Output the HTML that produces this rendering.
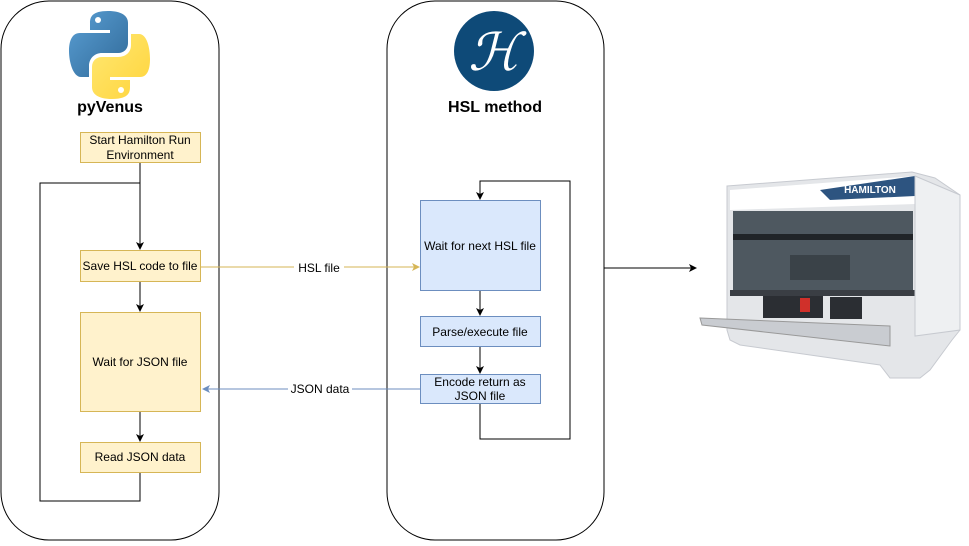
<!DOCTYPE html>
<html><head><meta charset="utf-8"><style>
body{margin:0;background:#fff;width:969px;height:541px;overflow:hidden;font-family:"Liberation Sans",sans-serif}
svg text{font-family:"Liberation Sans",sans-serif}
</style></head><body>
<svg width="969" height="541" viewBox="0 0 969 541" xmlns="http://www.w3.org/2000/svg">
<defs>
<marker id="a" markerWidth="8" markerHeight="8" refX="7" refY="4" orient="auto" markerUnits="userSpaceOnUse"><path d="M0,0 L8,4 L0,8 L2,4z" fill="#000"/></marker>
<marker id="y" markerWidth="8" markerHeight="8" refX="7" refY="4" orient="auto" markerUnits="userSpaceOnUse"><path d="M0,0 L8,4 L0,8 L2,4z" fill="#d6b656"/></marker>
<marker id="b" markerWidth="8" markerHeight="8" refX="7" refY="4" orient="auto" markerUnits="userSpaceOnUse"><path d="M0,0 L8,4 L0,8 L2,4z" fill="#6c8ebf"/></marker>
<linearGradient id="pb" x1="0" y1="0" x2="1" y2="1"><stop offset="0" stop-color="#5a9fd4"/><stop offset="1" stop-color="#306998"/></linearGradient>
<linearGradient id="py" x1="0" y1="0" x2="1" y2="1"><stop offset="0" stop-color="#ffe873"/><stop offset="1" stop-color="#ffd43b"/></linearGradient>
</defs>
<rect x="1" y="1" width="218" height="539" rx="48" fill="#fff" stroke="#000" stroke-width="1"/>
<rect x="387" y="1" width="217" height="539" rx="48" fill="#fff" stroke="#000" stroke-width="1"/>
<!-- python logo -->
<path d="M108,11 C92,11 90,17 90,23 L90,30 L110,30 L110,33 L80,33 C72,33 69,41 69,51 C69,62 73,77 81,77 L89,77 L89,66 C89,58 95,53 102,53 L118,53 C124,53 128,49 128,43 L128,23 C128,16 122,11 108,11z" fill="url(#pb)"/>
<circle cx="98" cy="20" r="3" fill="#fff"/>
<path d="M112,99 C128,99 130,93 130,87 L130,80 L110,80 L110,77 L140,77 C148,77 150,68 150,59 C150,48 147,34 139,34 L131,34 L131,45 C131,53 125,57 118,57 L102,57 C96,57 92,61 92,67 L92,87 C92,94 98,99 112,99z" fill="url(#py)"/>
<circle cx="121" cy="90" r="3" fill="#fff"/>
<text x="110" y="112" font-size="16" font-weight="bold" text-anchor="middle">pyVenus</text>
<!-- HSL logo -->
<circle cx="494" cy="51" r="40" fill="#0e4a78"/>
<text x="494" y="70" font-size="52" font-style="italic" fill="#fff" text-anchor="middle" font-family="Liberation Serif,serif">ℋ</text>
<text x="495" y="112" font-size="16" font-weight="bold" text-anchor="middle">HSL method</text>
<!-- left flow -->
<g stroke="#000" fill="none" stroke-width="1">
<path d="M140,162 V249" marker-end="url(#a)"/>
<path d="M140,472 V501 H40 V183 H140"/>
<path d="M140,281 V311" marker-end="url(#a)"/>
<path d="M140,411 V441" marker-end="url(#a)"/>
<path d="M480,290 V315" marker-end="url(#a)"/>
<path d="M480,346 V373" marker-end="url(#a)"/>
<path d="M480,403 V439 H570 V181 H480 V199" marker-end="url(#a)"/>
<path d="M604,268 H696" marker-end="url(#a)"/>
</g>
<g fill="#fff2cc" stroke="#d6b656">
<rect x="80.5" y="132.5" width="120" height="30"/>
<rect x="80.5" y="250.5" width="120" height="31"/>
<rect x="80.5" y="312.5" width="120" height="99"/>
<rect x="80.5" y="442.5" width="120" height="30"/>
</g>
<g fill="#dae8fc" stroke="#6c8ebf">
<rect x="420.5" y="200.5" width="120" height="90"/>
<rect x="420.5" y="316.5" width="120" height="30"/>
<rect x="420.5" y="374.5" width="120" height="29"/>
</g>
<g font-size="12" text-anchor="middle" fill="#000">
<text x="140" y="144">Start Hamilton Run</text>
<text x="140" y="159">Environment</text>
<text x="140" y="270">Save HSL code to file</text>
<text x="140" y="366">Wait for JSON file</text>
<text x="140" y="461">Read JSON data</text>
<text x="480" y="250">Wait for next HSL file</text>
<text x="480" y="336">Parse/execute file</text>
<text x="480" y="386">Encode return as</text>
<text x="480" y="400">JSON file</text>
</g>
<path d="M200,267 H419" stroke="#d6b656" fill="none" marker-end="url(#y)"/>
<rect x="294" y="259" width="50" height="16" fill="#fff"/>
<text x="319" y="272" font-size="12" text-anchor="middle">HSL file</text>
<path d="M420,389 H203" stroke="#6c8ebf" fill="none" marker-end="url(#b)"/>
<rect x="288" y="381" width="64" height="16" fill="#fff"/>
<text x="320" y="393" font-size="12" text-anchor="middle">JSON data</text>
<!-- robot -->
<g>
<path d="M727,186 L912,172 L935,178 L960,195 L960,330 L952,340 L930,370 L920,378 L890,378 L880,365 L740,345 L730,340 L727,330z" fill="#e4e6e9" stroke="#c7cad0"/>
<path d="M730,190 L915,176 L915,204 L730,210z" fill="#ffffff"/>
<path d="M820,190 L915,176 L915,196 L830,200z" fill="#2d5480"/>
<text x="870" y="193" font-size="10" font-weight="bold" fill="#fff" text-anchor="middle">HAMILTON</text>
<rect x="733" y="211" width="180" height="80" fill="#4e5860"/>
<rect x="733" y="234" width="180" height="6" fill="#202428"/>
<rect x="790" y="255" width="60" height="25" fill="#3a4248"/>
<rect x="730" y="290" width="186" height="6" fill="#3a3e44"/>
<rect x="763" y="296" width="60" height="22" fill="#2b2e33"/>
<rect x="800" y="298" width="10" height="14" fill="#d0302a"/>
<rect x="830" y="297" width="32" height="22" fill="#2b2e33"/>
<path d="M700,318 L890,326 L890,346 L702,325z" fill="#c9ccd1" stroke="#999"/>
<path d="M915,176 L960,195 L960,330 L915,336z" fill="#eef0f2" stroke="#c7cad0"/>
</g>
</svg>
</body></html>
